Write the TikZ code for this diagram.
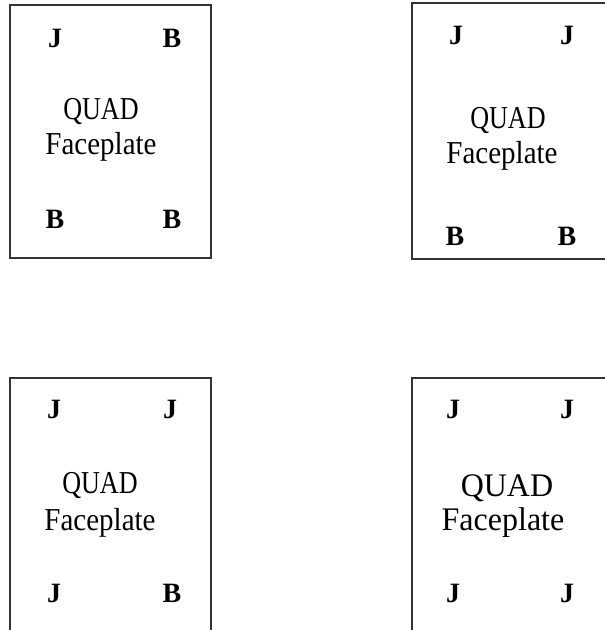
\documentclass[tikz,border=0pt]{standalone}
\usepackage{fontspec}
\setmainfont{Liberation Serif}
\begin{document}
\begin{tikzpicture}[x=1pt,y=-1pt,
  plate/.style={draw=black!80,line width=2pt},
  pin/.style={anchor=base,inner sep=0pt,font=\fontsize{28}{28}\selectfont\bfseries},
  lbl/.style={anchor=base,inner sep=0pt,font=\fontsize{29}{29}\selectfont,yscale=1.1},
  lblq/.style={lbl,xscale=0.9},
  lblbig/.style={anchor=base,inner sep=0pt,font=\fontsize{32}{32}\selectfont,yscale=1.03}]
\useasboundingbox (0,0) rectangle (605,630);
% box 1
\draw[plate] (10,4.5) rectangle (211,258);
\node[pin] (a1) at (55,47) {J};
\node[pin] (a2) at (172,47) {B};
\node[lblq] (aq) at (101,119) {QUAD};
\node[lbl] (af) at (101,154) {Faceplate};
\node[pin] (a3) at (55,228) {B};
\node[pin] (a4) at (172,228) {B};
% box 2
\draw[plate] (412,2.5) rectangle (620,259);
\node[pin] (b1) at (456,44) {J};
\node[pin] (b2) at (567,44) {J};
\node[lblq] (bq) at (508,128) {QUAD};
\node[lbl] (bf) at (502,163) {Faceplate};
\node[pin] (b3) at (455,245) {B};
\node[pin] (b4) at (567,245) {B};
% box 3
\draw[plate] (10,378) rectangle (211,650);
\node[pin] (c1) at (54,418) {J};
\node[pin] (c2) at (170,418) {J};
\node[lblq] (cq) at (100,493) {QUAD};
\node[lbl] (cf) at (100,530) {Faceplate};
\node[pin] (c3) at (54,602) {J};
\node[pin] (c4) at (172,602) {B};
% box 4
\draw[plate] (412,378) rectangle (620,650);
\node[pin] (d1) at (453,418) {J};
\node[pin] (d2) at (567,418) {J};
\node[lblbig] (dq) at (507,496) {QUAD};
\node[lblbig] (df) at (503,530) {Faceplate};
\node[pin] (d3) at (453,602) {J};
\node[pin] (d4) at (567,602) {J};
\end{tikzpicture}
\end{document}
